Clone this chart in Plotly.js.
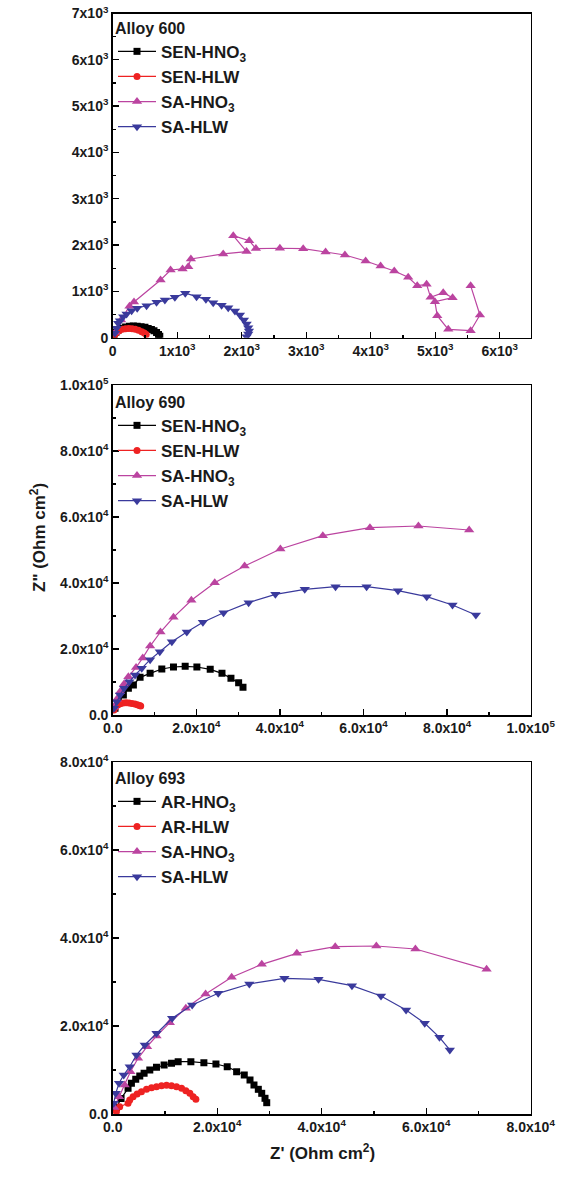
<!DOCTYPE html>
<html>
<head>
<meta charset="utf-8">
<script src="https://cdn.plot.ly/plotly-3.0.1.min.js"></script>
<style>html,body{margin:0;padding:0;background:#fff;}#chart{width:569px;height:1188px;}</style>
</head>
<body>
<div id="chart"></div>
<script>
// ---------- Alloy 600 ----------
const a600_senHNO3_x = [20, 50, 90, 140, 200, 260, 320, 380, 440, 500, 550, 600, 640, 680, 710, 730];
const a600_senHNO3_y = [60, 120, 170, 205, 230, 245, 250, 245, 235, 225, 200, 175, 150, 110, 70, 30];
const a600_senHLW_x = [30, 60, 100, 150, 200, 250, 300, 350, 400, 450, 490, 520];
const a600_senHLW_y = [60, 110, 150, 180, 195, 200, 195, 180, 160, 130, 100, 70];
const a600_saHNO3_x = [40, 130, 260, 330, 742, 897, 1083, 1171, 1212, 1713, 2075, 1869, 2116, 2220, 2592, 2953, 3300, 3600, 3921, 4153, 4365, 4581, 4721, 4866, 4928, 5124, 5269, 4995, 5031, 5202, 5549, 5693, 5549];
const a600_saHNO3_y = [120, 380, 680, 770, 1246, 1462, 1484, 1534, 1700, 1808, 1860, 2203, 2095, 1925, 1931, 1922, 1850, 1786, 1657, 1549, 1441, 1304, 1124, 1153, 872, 972, 864, 778, 475, 181, 151, 490, 1123];
const a600_saHLW_x = [34, 60, 85, 112, 163, 215, 293, 380, 525, 680, 809, 964, 1125, 1300, 1445, 1558, 1688, 1791, 1895, 1972, 2034, 2076, 2101, 2112, 2101, 2076];
const a600_saHLW_y = [95, 203, 311, 367, 454, 512, 583, 635, 691, 764, 814, 872, 960, 886, 829, 756, 700, 648, 577, 490, 382, 296, 216, 145, 80, 22];

// ---------- Alloy 690 ----------
const a690_senHNO3_x = [550, 1350, 2550, 3750, 4950, 6550, 8950, 11750, 14540, 17340, 20140, 23330, 26140, 28290, 30130, 31170];
const a690_senHNO3_y = [2030, 4030, 6060, 8090, 9090, 11410, 12630, 13940, 14550, 14750, 14550, 13840, 12630, 11110, 9800, 8380];
const a690_senHLW_x = [300, 700, 1200, 1800, 2500, 3200, 3900, 4600, 5300, 5900, 6400, 6700];
const a690_senHLW_y = [1500, 2400, 3000, 3400, 3600, 3700, 3600, 3500, 3300, 3100, 2900, 2700];
const a690_saHNO3_x = [310, 960, 1750, 2710, 3750, 5590, 7190, 8950, 11430, 14540, 18820, 24410, 31560, 40120, 50270, 61540, 73140, 85280];
const a690_saHNO3_y = [2520, 4750, 7070, 9390, 11610, 14400, 17300, 20900, 25150, 29600, 34750, 40100, 45150, 50300, 54340, 56770, 57270, 56060];
const a690_saHLW_x = [310, 960, 1750, 2710, 3980, 5350, 6950, 8950, 11260, 14150, 17730, 21580, 26520, 32520, 38920, 45950, 53310, 60740, 68250, 75130, 81290, 86880];
const a690_saHLW_y = [2030, 4030, 6060, 8090, 10090, 12120, 14150, 16770, 19190, 22220, 25150, 28090, 31000, 34040, 36570, 38080, 38890, 38890, 37680, 35860, 33330, 30300];

// ---------- Alloy 693 ----------
const a693_arHNO3_x = [700, 1600, 2940, 3580, 4410, 5180, 6010, 7100, 8380, 9840, 11260, 12530, 14960, 17450, 19760, 21920, 23720, 25180, 26280, 27040, 27870, 28520, 29150, 29480];
const a693_arHNO3_y = [1500, 3500, 5840, 6980, 7890, 8640, 9250, 10000, 10610, 11140, 11520, 11890, 11890, 11660, 11370, 10750, 9610, 8860, 7730, 6590, 5610, 4700, 3570, 2570];
const a693_arHLW_x = [710, 1340, 2940, 3260, 3900, 4670, 5500, 6470, 7430, 8380, 9340, 10300, 11260, 12220, 13180, 14000, 14770, 15400, 15920];
const a693_arHLW_y = [520, 1660, 2430, 3180, 3940, 4550, 5070, 5610, 5980, 6210, 6440, 6520, 6440, 6210, 5840, 5300, 4700, 3940, 3340];
const a693_saHNO3_x = [300, 1210, 2300, 3390, 4850, 6580, 8380, 10940, 14000, 17780, 22770, 28530, 35240, 42590, 50460, 57940, 71560];
const a693_saHNO3_y = [1500, 3930, 6590, 9620, 12660, 15300, 17730, 20760, 24020, 27270, 31070, 34020, 36520, 38030, 38180, 37500, 32880];
const a693_saHLW_x = [190, 580, 1210, 2110, 3260, 4550, 6140, 8380, 11380, 15210, 20200, 26150, 32860, 39390, 45790, 51350, 56150, 59720, 62540, 64520];
const a693_saHLW_y = [2430, 4700, 6980, 8860, 10750, 13410, 15680, 18340, 21750, 24770, 27430, 29550, 30840, 30610, 29160, 26820, 23640, 20610, 17430, 14550];

// tick labels
const t600_vals = [0, 1000, 2000, 3000, 4000, 5000, 6000, 7000];
const t600_text = ['0', '1x10<sup>3</sup>', '2x10<sup>3</sup>', '3x10<sup>3</sup>', '4x10<sup>3</sup>', '5x10<sup>3</sup>', '6x10<sup>3</sup>', '7x10<sup>3</sup>'];
const t690_vals = [0, 20000, 40000, 60000, 80000, 100000];
const t690_text = ['0.0', '2.0x10<sup>4</sup>', '4.0x10<sup>4</sup>', '6.0x10<sup>4</sup>', '8.0x10<sup>4</sup>', '1.0x10<sup>5</sup>'];
const t693_vals = [0, 20000, 40000, 60000, 80000];
const t693_text = ['0.0', '2.0x10<sup>4</sup>', '4.0x10<sup>4</sup>', '6.0x10<sup>4</sup>', '8.0x10<sup>4</sup>'];

const names600 = ['SEN-HNO<sub>3</sub>', 'SEN-HLW', 'SA-HNO<sub>3</sub>', 'SA-HLW'];
const names690 = ['SEN-HNO<sub>3</sub>', 'SEN-HLW', 'SA-HNO<sub>3</sub>', 'SA-HLW'];
const names693 = ['AR-HNO<sub>3</sub>', 'AR-HLW', 'SA-HNO<sub>3</sub>', 'SA-HLW'];

const FONT = 'Liberation Sans, Arial, sans-serif';
const styles = [
  {color: '#000000', symbol: 'square', size: 7},
  {color: '#ee2222', symbol: 'circle', size: 7},
  {color: '#bb44a0', symbol: 'triangle-up', size: 9},
  {color: '#3a3a9c', symbol: 'triangle-down', size: 9}
];

function mk(x, y, name, i, xa, ya, lg) {
  const s = styles[i];
  return {
    x: x, y: y, name: name, type: 'scatter', mode: 'lines+markers',
    xaxis: xa, yaxis: ya, legend: lg,
    line: {color: s.color, width: 1.2},
    marker: {color: s.color, symbol: s.symbol, size: s.size, line: {width: 0}},
    cliponaxis: true
  };
}

const data = [
  mk(a600_senHNO3_x, a600_senHNO3_y, names600[0], 0, 'x', 'y', 'legend'),
  mk(a600_senHLW_x, a600_senHLW_y, names600[1], 1, 'x', 'y', 'legend'),
  mk(a600_saHNO3_x, a600_saHNO3_y, names600[2], 2, 'x', 'y', 'legend'),
  mk(a600_saHLW_x, a600_saHLW_y, names600[3], 3, 'x', 'y', 'legend'),
  mk(a690_senHNO3_x, a690_senHNO3_y, names690[0], 0, 'x2', 'y2', 'legend2'),
  mk(a690_senHLW_x, a690_senHLW_y, names690[1], 1, 'x2', 'y2', 'legend2'),
  mk(a690_saHNO3_x, a690_saHNO3_y, names690[2], 2, 'x2', 'y2', 'legend2'),
  mk(a690_saHLW_x, a690_saHLW_y, names690[3], 3, 'x2', 'y2', 'legend2'),
  mk(a693_arHNO3_x, a693_arHNO3_y, names693[0], 0, 'x3', 'y3', 'legend3'),
  mk(a693_arHLW_x, a693_arHLW_y, names693[1], 1, 'x3', 'y3', 'legend3'),
  mk(a693_saHNO3_x, a693_saHNO3_y, names693[2], 2, 'x3', 'y3', 'legend3'),
  mk(a693_saHLW_x, a693_saHLW_y, names693[3], 3, 'x3', 'y3', 'legend3')
];

const W = 569, H = 1188;
const xdom = [112.7 / W, 530.7 / W];
function ydom(top, bottom) { return [1 - bottom / H, 1 - top / H]; }

function axis(range, vals, text, minorD, anchor, dom) {
  return {
    range: range, domain: dom, anchor: anchor,
    tickmode: 'array', tickvals: vals, ticktext: text,
    ticks: 'inside', ticklen: 6, tickwidth: 1.3, tickcolor: '#000',
    minor: {ticks: 'inside', ticklen: 3, tickwidth: 1.2, tickcolor: '#000', dtick: minorD, showgrid: false},
    showline: true, linecolor: '#000', linewidth: 1.5, mirror: true,
    showgrid: false, zeroline: false,
    tickfont: {family: FONT, size: 14, color: '#1a1a1a', weight: 'bold'}
  };
}

function legend(title, topPx) {
  return {
    x: 113 / W, y: 1 - topPx / H, xanchor: 'left', yanchor: 'top',
    bgcolor: 'rgba(0,0,0,0)', borderwidth: 0,
    font: {family: FONT, size: 17, color: '#1a1a1a', weight: 'bold'},
    title: {text: title, font: {family: FONT, size: 16, color: '#1a1a1a', weight: 'bold'}},
    itemwidth: 38, tracegroupgap: 0
  };
}

const layout = {
  width: W, height: H,
  margin: {l: 0, r: 0, t: 0, b: 0},
  paper_bgcolor: '#fff', plot_bgcolor: '#fff',
  font: {family: FONT},
  xaxis: axis([0, 6480], t600_vals.slice(0, 7), t600_text.slice(0, 7), 500, 'y', xdom),
  yaxis: axis([0, 7000], t600_vals, t600_text, 500, 'x', ydom(13.5, 337.7)),
  xaxis2: axis([0, 100000], t690_vals, t690_text, 10000, 'y2', xdom),
  yaxis2: axis([0, 100000], t690_vals, t690_text, 10000, 'x2', ydom(385, 715)),
  xaxis3: axis([0, 80000], t693_vals, t693_text, 10000, 'y3', xdom),
  yaxis3: axis([0, 80000], t693_vals, t693_text, 10000, 'x3', ydom(762, 1114)),
  legend: legend('Alloy 600', 13),
  legend2: legend('Alloy 690', 387),
  legend3: legend('Alloy 693', 763),
  annotations: [
    {text: 'Z" (Ohm cm<sup>2</sup>)', xref: 'paper', yref: 'paper', x: 25 / W, y: 1 - 538 / H,
     showarrow: false, textangle: -90, font: {family: FONT, size: 17, color: '#1a1a1a', weight: 'bold'}},
    {text: "Z' (Ohm cm<sup>2</sup>)", xref: 'paper', yref: 'paper', x: 322 / W, y: 1 - 1165 / H,
     showarrow: false, font: {family: FONT, size: 17, color: '#1a1a1a', weight: 'bold'}}
  ]
};

Plotly.newPlot('chart', data, layout, {staticPlot: true, displayModeBar: false});
</script>
</body>
</html>
